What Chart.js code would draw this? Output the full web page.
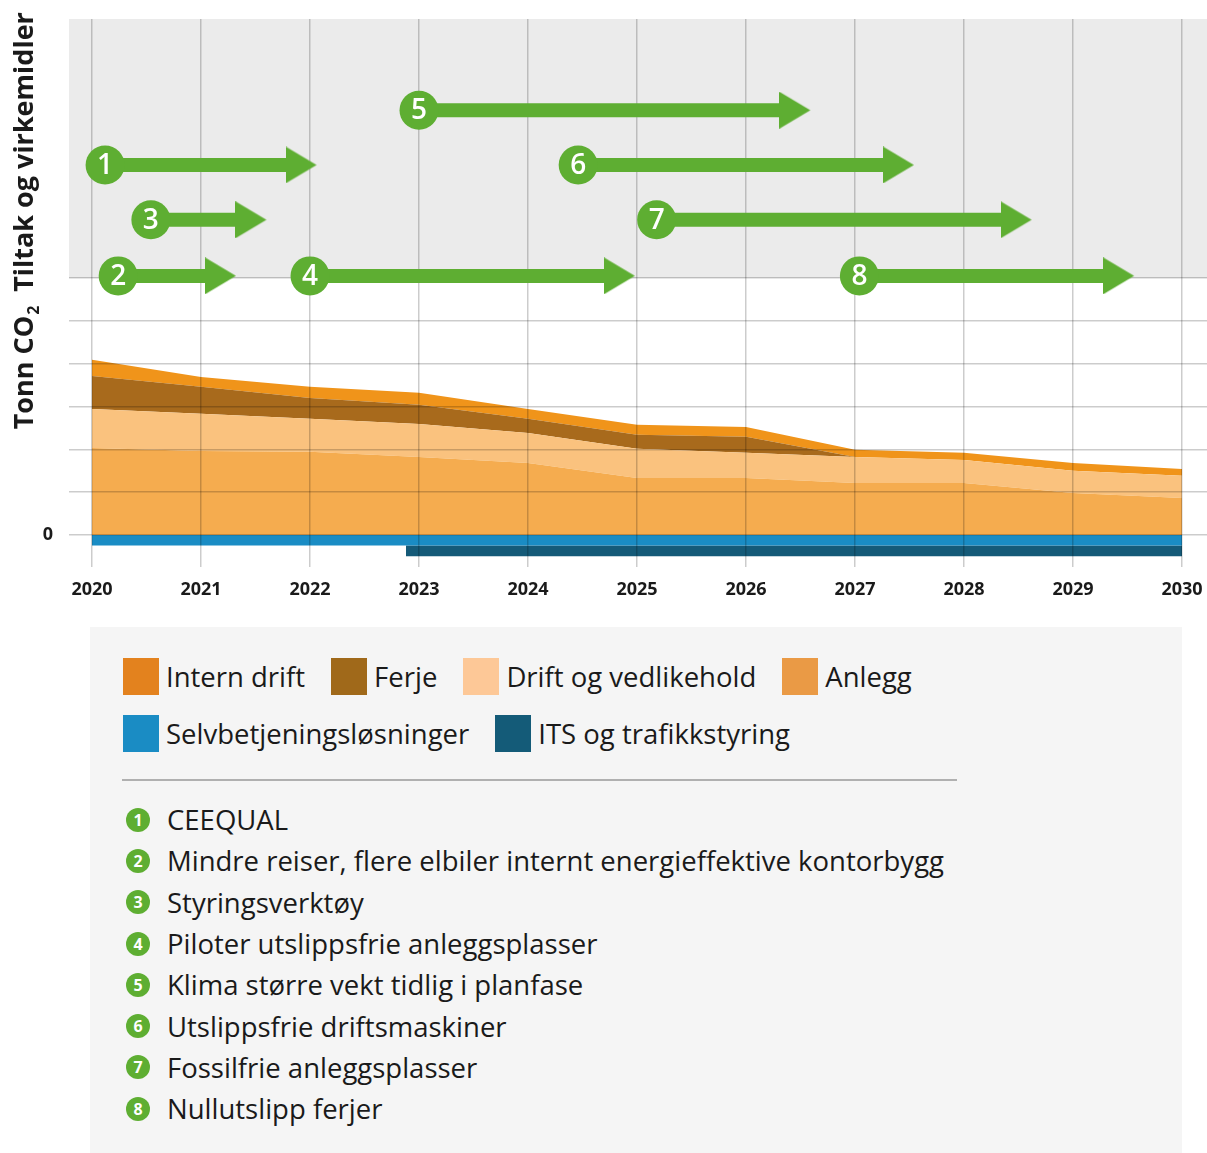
<!DOCTYPE html>
<html><head><meta charset="utf-8">
<script src="https://cdn.jsdelivr.net/npm/chart.js@4/dist/chart.umd.min.js"></script>
<style>
html,body{margin:0;padding:0;background:#fff;width:1207px;height:1153px;overflow:hidden;}
#wrap{position:absolute;left:0;top:0;width:1207px;height:615px;}
#legendBox{position:absolute;left:90px;top:627px;width:1092px;height:526px;background:#F5F5F5;font-family:"Open Sans",sans-serif;color:#1a1a1a;}
.leg-row{position:absolute;left:33px;display:flex;align-items:center;height:37px;}
.leg-item{display:flex;align-items:center;margin-right:26px;font-size:27.5px;white-space:nowrap;}
.sw{width:36px;height:37px;margin-right:7px;flex:none;}
.sep{position:absolute;left:32px;top:152px;width:835px;height:2px;background:#B0B0B0;}
.list{position:absolute;left:0;top:172px;}
.li{display:flex;align-items:center;height:41.3px;font-size:27.5px;white-space:nowrap;}
.num{width:24px;height:24px;border-radius:50%;background:#5EAE32;color:#fff;font:bold 16px "Open Sans",sans-serif;display:flex;align-items:center;justify-content:center;margin-left:36px;margin-right:17px;flex:none;}
</style>
</head><body>
<div id="wrap"><canvas id="c" width="1207" height="615"></canvas></div>
<div id="legendBox">
  <div class="leg-row" id="row1" style="top:31px"></div>
  <div class="leg-row" id="row2" style="top:88px"></div>
  <div class="sep"></div>
  <div class="list" id="list"></div>
</div>
<script>
// ---------- DATA ----------
const years = [2020, 2021, 2022, 2023, 2024, 2025, 2026, 2027, 2028, 2029, 2030];
const anlegg             = [2.03, 1.96, 1.94, 1.82, 1.68, 1.33, 1.33, 1.21, 1.21, 0.98, 0.86];
const driftOgVedlikehold = [0.91, 0.87, 0.77, 0.77, 0.70, 0.68, 0.59, 0.61, 0.54, 0.52, 0.52];
const ferje              = [0.77, 0.63, 0.49, 0.45, 0.33, 0.33, 0.37, 0.00, 0.00, 0.00, 0.00];
const internDrift        = [0.38, 0.23, 0.26, 0.28, 0.23, 0.23, 0.23, 0.17, 0.17, 0.18, 0.16];

const selvbetjeningYears = [2020, 2030];
const selvbetjening      = [-0.25, -0.25];
const itsYears           = [2022.88, 2030];
const its                = [-0.25, -0.25];

const tiltakNr    = ['1', '2', '3', '4', '5', '6', '7', '8'];
const tiltakStart = [2020.12, 2020.24, 2020.54, 2022.00, 2023.00, 2024.46, 2025.18, 2027.04];
const tiltakSlutt = [2022.06, 2021.32, 2021.60, 2024.98, 2026.59, 2027.54, 2028.62, 2029.56];
const tiltakNivaa = [8.64, 6.05, 7.36, 6.05, 9.92, 8.64, 7.36, 6.05];
const tiltakTekst = [
  'CEEQUAL',
  'Mindre reiser, flere elbiler internt energieffektive kontorbygg',
  'Styringsverktøy',
  'Piloter utslippsfrie anleggsplasser',
  'Klima større vekt tidlig i planfase',
  'Utslippsfrie driftsmaskiner',
  'Fossilfrie anleggsplasser',
  'Nullutslipp ferjer'
];

const xTicks = years;
const yGridValues = [0, 1, 2, 3, 4, 5, 6];
const tiltakPanelFrom = 6;

const legendLabels = ['Intern drift', 'Ferje', 'Drift og vedlikehold', 'Anlegg', 'Selvbetjeningsløsninger', 'ITS og trafikkstyring'];

// ---------- STYLE ----------
const areaColors = {anlegg:'#F5AC4F', drift:'#FAC27E', ferje:'#A86A1C', intern:'#F0941A', selv:'#1A8CC4', its:'#155A78'};
const swatchColors = ['#E3821E', '#A0691A', '#FDC897', '#EA9A45', '#1A8CC4', '#145B78'];
const green = '#5EAE32';
const gridColor = 'rgba(0,0,0,0.2)';

// ---------- LEGEND (HTML) ----------
function legItem(i){
  const d = document.createElement('div'); d.className='leg-item';
  const s = document.createElement('div'); s.className='sw'; s.style.background=swatchColors[i];
  const t = document.createElement('span'); t.textContent = legendLabels[i];
  d.appendChild(s); d.appendChild(t); return d;
}
[0,1,2,3].forEach(i=>document.getElementById('row1').appendChild(legItem(i)));
[4,5].forEach(i=>document.getElementById('row2').appendChild(legItem(i)));
tiltakTekst.forEach((txt,i)=>{
  const li=document.createElement('div'); li.className='li';
  const n=document.createElement('div'); n.className='num'; n.textContent=tiltakNr[i];
  const t=document.createElement('span'); t.textContent=txt;
  li.appendChild(n); li.appendChild(t); document.getElementById('list').appendChild(li);
});

// ---------- CHART ----------
const pts = (xs, ys) => xs.map((x,i)=>({x, y: ys[i]}));

// arrow head image: tip at image centre
const head = document.createElement('canvas');
head.width = 62; head.height = 37;
(function(){const g=head.getContext('2d'); g.fillStyle=green; g.beginPath(); g.moveTo(0,0); g.lineTo(31,18.5); g.lineTo(0,37); g.closePath(); g.fill();})();

const areaBase = {type:'line', stack:'co2', borderWidth:0, pointRadius:0, tension:0};
const datasets = [
  {...areaBase, label:legendLabels[3], data:pts(years, anlegg), backgroundColor:areaColors.anlegg, fill:'origin'},
  {...areaBase, label:legendLabels[2], data:pts(years, driftOgVedlikehold), backgroundColor:areaColors.drift, fill:'-1'},
  {...areaBase, label:legendLabels[1], data:pts(years, ferje), backgroundColor:areaColors.ferje, fill:'-1'},
  {...areaBase, label:legendLabels[0], data:pts(years, internDrift), backgroundColor:areaColors.intern, fill:'-1'},
  {...areaBase, stack:'selv', label:legendLabels[4], data:pts(selvbetjeningYears, selvbetjening), backgroundColor:areaColors.selv, fill:'origin'},
  // ITS is drawn below Selvbetjening: its level is added to the Selvbetjening level
  {...areaBase, stack:'its', label:legendLabels[5], data:itsYears.map((x,i)=>({x, y: selvbetjening[0] + its[i]})), backgroundColor:areaColors.its, fill:'-1'}
];
tiltakNr.forEach((nr,i)=>{
  datasets.push({
    type:'line', isArrow:true, nr, stack:'tiltak'+i, fill:false,
    data:[{x:tiltakStart[i], y:tiltakNivaa[i]}, {x:tiltakSlutt[i], y:tiltakNivaa[i]}],
    borderColor:green, borderWidth:14, borderCapStyle:'butt', tension:0,
    segment:{borderDash: c => [Math.max(0, c.p1.x - c.p0.x - 20), 5000]},
    pointStyle:['circle', head], pointRadius:[19.5, 2], pointBackgroundColor:green, pointBorderWidth:0,
    pointHoverRadius:[19.5, 2]
  });
});

const panelPlugin = {
  id:'panel',
  beforeDraw(chart){
    const {ctx, chartArea:a, scales:{y}} = chart;
    const yp = y.getPixelForValue(tiltakPanelFrom);
    ctx.save(); ctx.fillStyle='#EBEBEB'; ctx.fillRect(a.left, a.top, a.right-a.left, yp-a.top); ctx.restore();
  }
};
const arrowPlugin = {
  id:'arrows',
  beforeDatasetDraw(chart, args){ if (chart.data.datasets[args.index].isArrow) return false; },
  afterDraw(chart){
    const ctx = chart.ctx;
    chart.data.datasets.forEach((ds,i)=>{
      if(!ds.isArrow) return;
      const meta = chart.getDatasetMeta(i);
      meta.controller.draw();
      const p = meta.data[0];
      ctx.save(); ctx.fillStyle='#fff'; ctx.font='600 28px "Open Sans", sans-serif';
      ctx.textAlign='center'; ctx.textBaseline='middle';
      ctx.fillText(ds.nr, p.x, p.y+1); ctx.restore();
    });
  }
};
const titlePlugin = {
  id:'ytitles',
  afterDraw(chart){
    const ctx = chart.ctx;
    const big='bold 27px "Open Sans", sans-serif', small='bold 16px "Open Sans", sans-serif';
    ctx.save(); ctx.fillStyle='#1a1a1a';
    ctx.translate(25, 0); ctx.rotate(-Math.PI/2);
    ctx.textBaseline='middle';
    ctx.font=big; ctx.textAlign='center';
    ctx.fillText('Tiltak og virkemidler', -152, 0);
    const main='Tonn CO';
    const w = ctx.measureText(main).width;
    ctx.font=small;
    const w2 = ctx.measureText('2').width;
    const start = -368 - (w+w2)/2;
    ctx.textAlign='left';
    ctx.font=big; ctx.fillText(main, start, 0);
    ctx.font=small; ctx.fillText('2', start + w + 1, 9);
    ctx.restore();
  }
};

new Chart(document.getElementById('c'), {
  data:{datasets},
  options:{
    responsive:false, animation:false, devicePixelRatio:1,
    layout:{autoPadding:false, padding:{top:19, right:0, bottom:0, left:0}},
    plugins:{legend:{display:false}, tooltip:{enabled:false}},
    events:[],
    scales:{
      x:{type:'linear', min:2019.789, max:2030.229,
         afterBuildTicks: s => { s.ticks = xTicks.map(v=>({value:v})); },
         afterFit: s => { s.height = 48; s.paddingLeft = 0; s.paddingRight = 0; },
         grid:{color:gridColor, lineWidth:1.5, drawTicks:false, z:1},
         border:{display:false},
         ticks:{padding:12, color:'#1a1a1a', maxRotation:0, font:{family:'"Open Sans", sans-serif', size:18, weight:'bold'}, callback:v=>String(v)}},
      y:{type:'linear', stacked:true, min:-0.75, max:12.05,
         afterBuildTicks: s => { s.ticks = yGridValues.map(v=>({value:v})); },
         afterFit: s => { s.width = 69; s.paddingTop = 0; s.paddingBottom = 0; },
         grid:{color:gridColor, lineWidth:1.5, drawTicks:false, z:1},
         border:{display:false},
         ticks:{padding:16, color:'#1a1a1a', font:{family:'"Open Sans", sans-serif', size:18, weight:'bold'}, callback:v=> v===0 ? '0' : ''}}
    }
  },
  plugins:[panelPlugin, arrowPlugin, titlePlugin]
});
</script>
</body></html>
